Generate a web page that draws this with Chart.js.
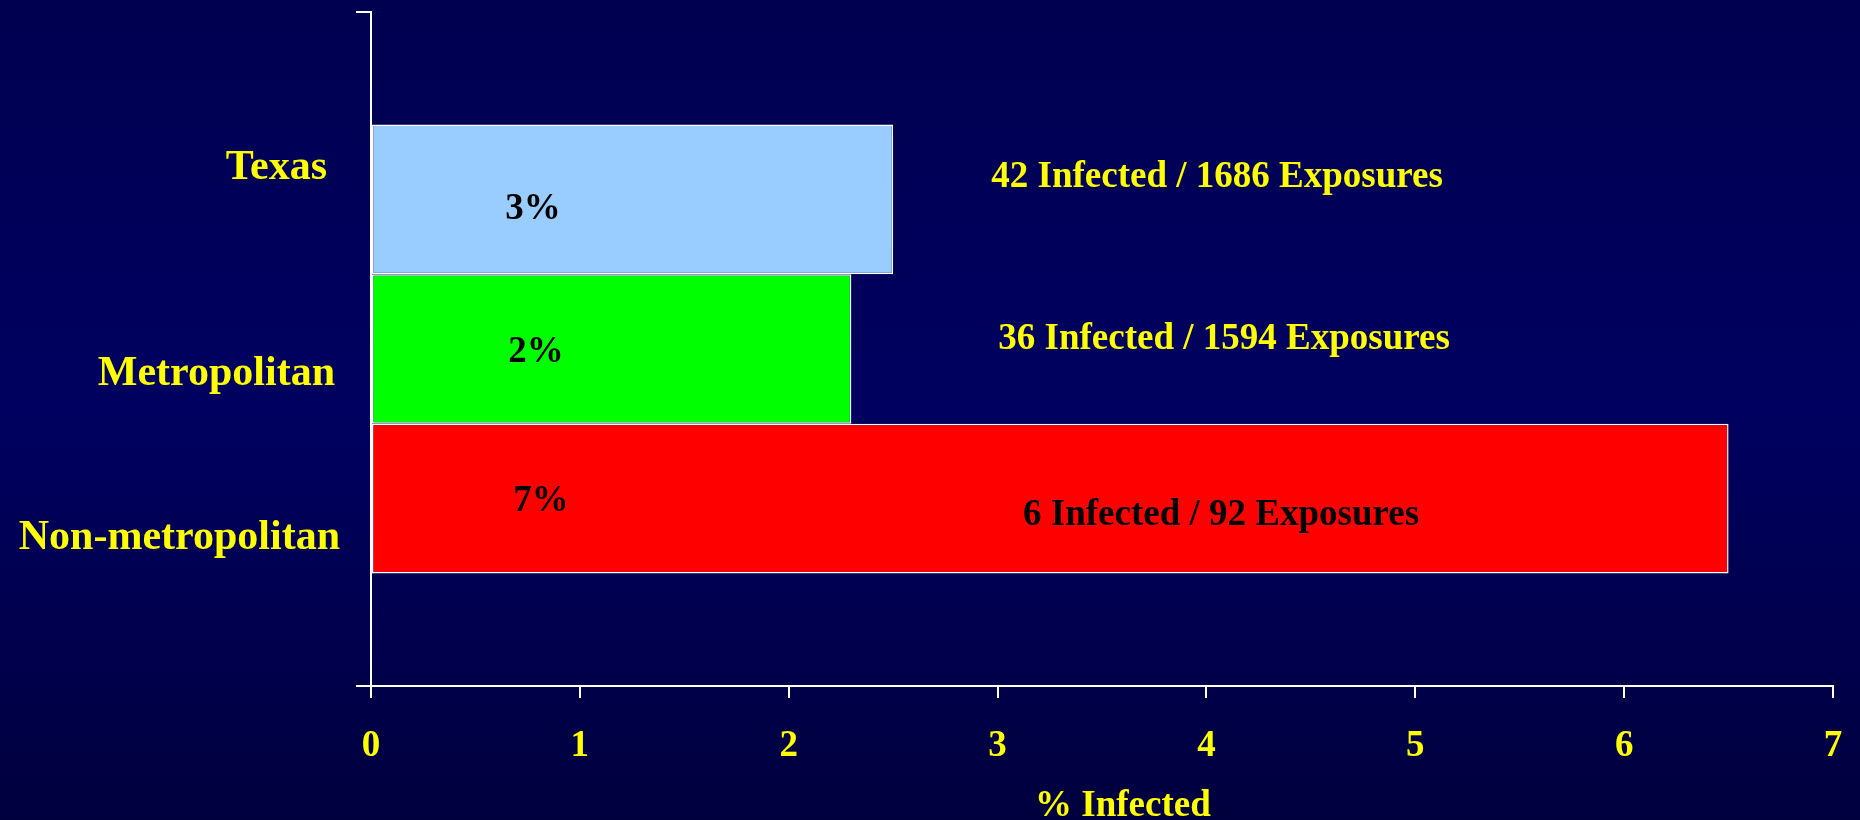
<!DOCTYPE html>
<html>
<head>
<meta charset="utf-8">
<script src="https://cdn.jsdelivr.net/npm/chart.js@4/dist/chart.umd.min.js"></script>
<style>
html,body{margin:0;padding:0;background:#000058;overflow:hidden}
canvas{display:block}
</style>
</head>
<body>
<canvas id="chart" width="1860" height="820"></canvas>
<script>
const regions=['Texas','Metropolitan','Non-metropolitan'];
const pctInfected=[2.5,2.3,6.5];
const pctLabels=['3%','2%','7%'];
const exposureLabels=['42 Infected / 1686 Exposures','36 Infected / 1594 Exposures','6 Infected / 92 Exposures'];
const exposureColors=['#ffff00','#ffff00','#000000'];
const barColors=['#99ccff','#00ff00','#ff0000'];
const xMin=0,xMax=7,xStep=1;
const xTitle='% Infected';

const FONT='"Liberation Serif", "Times New Roman", serif';
// text placement, relative to each bar's centre line (px)
const nameShift=[[-8,-20],[0,36],[5,50]];
const pctShift=[[-5,20],[-2,13],[3,12]];
const expShift=[[-4,-12],[3,0],[0,26]];

const bgPlugin={
 id:'bg',
 beforeDraw(c){
  const ctx=c.ctx,g=ctx.createLinearGradient(0,0,0,c.height);
  g.addColorStop(0,'#000050');g.addColorStop(0.5,'#000060');g.addColorStop(1,'#00003e');
  ctx.save();ctx.fillStyle=g;ctx.fillRect(0,0,c.width,c.height);ctx.restore();
 }
};

const textPlugin={
 id:'texts',
 afterDatasetsDraw(c){
  const ctx=c.ctx,xs=c.scales.x,left=c.chartArea.left;
  ctx.save();ctx.textBaseline='alphabetic';
  regions.forEach((r,i)=>{
   const bar=c.getDatasetMeta(i).data[0];if(!bar)return;
   const y=bar.y;
   ctx.font='bold 42px '+FONT;ctx.fillStyle='#ffff00';ctx.textAlign='right';
   ctx.fillText(r,left-36+nameShift[i][0],y+nameShift[i][1]);
   ctx.font='bold 37px '+FONT;ctx.textAlign='center';ctx.fillStyle='#000000';
   ctx.fillText(pctLabels[i],xs.getPixelForValue(0.8)+pctShift[i][0],y+pctShift[i][1]);
   ctx.fillStyle=exposureColors[i];
   ctx.fillText(exposureLabels[i],xs.getPixelForValue(4.07)+expShift[i][0],y+expShift[i][1]);
  });
  // axis title, sits a little right of the axis centre
  ctx.font='bold 37px '+FONT;ctx.fillStyle='#ffff00';ctx.textAlign='center';
  ctx.fillText(xTitle,xs.getPixelForValue(3.6),xs.bottom-4);
  ctx.restore();
 }
};

new Chart(document.getElementById('chart'),{
 type:'bar',
 data:{
  labels:[''],
  datasets:regions.map((r,i)=>({label:r,data:[pctInfected[i]],backgroundColor:barColors[i],borderColor:'#ffffff',borderWidth:1.5,borderSkipped:false}))
 },
 options:{
  indexAxis:'y',responsive:false,animation:false,
  categoryPercentage:0.666,barPercentage:1,
  layout:{padding:{top:12,right:27,left:0,bottom:0}},
  plugins:{legend:{display:false},tooltip:{enabled:false}},
  scales:{
   y:{
    type:'category',offset:true,
    grid:{offset:true,drawOnChartArea:false,drawTicks:true,tickLength:15,color:'#ffffff',lineWidth:2},
    border:{color:'#ffffff',width:2},
    ticks:{display:false},
    afterFit(s){s.width=371;}
   },
   x:{
    min:xMin,max:xMax,
    grid:{drawOnChartArea:false,drawTicks:true,tickLength:12,color:'#ffffff',lineWidth:2},
    border:{color:'#ffffff',width:2},
    ticks:{stepSize:xStep,color:'#ffff00',padding:26,font:{family:FONT,size:37,weight:'bold'}},
    afterFit(s){s.height=134;s.paddingLeft=0;s.paddingRight=0;}
   }
  }
 },
 plugins:[bgPlugin,textPlugin]
});
</script>
</body>
</html>
